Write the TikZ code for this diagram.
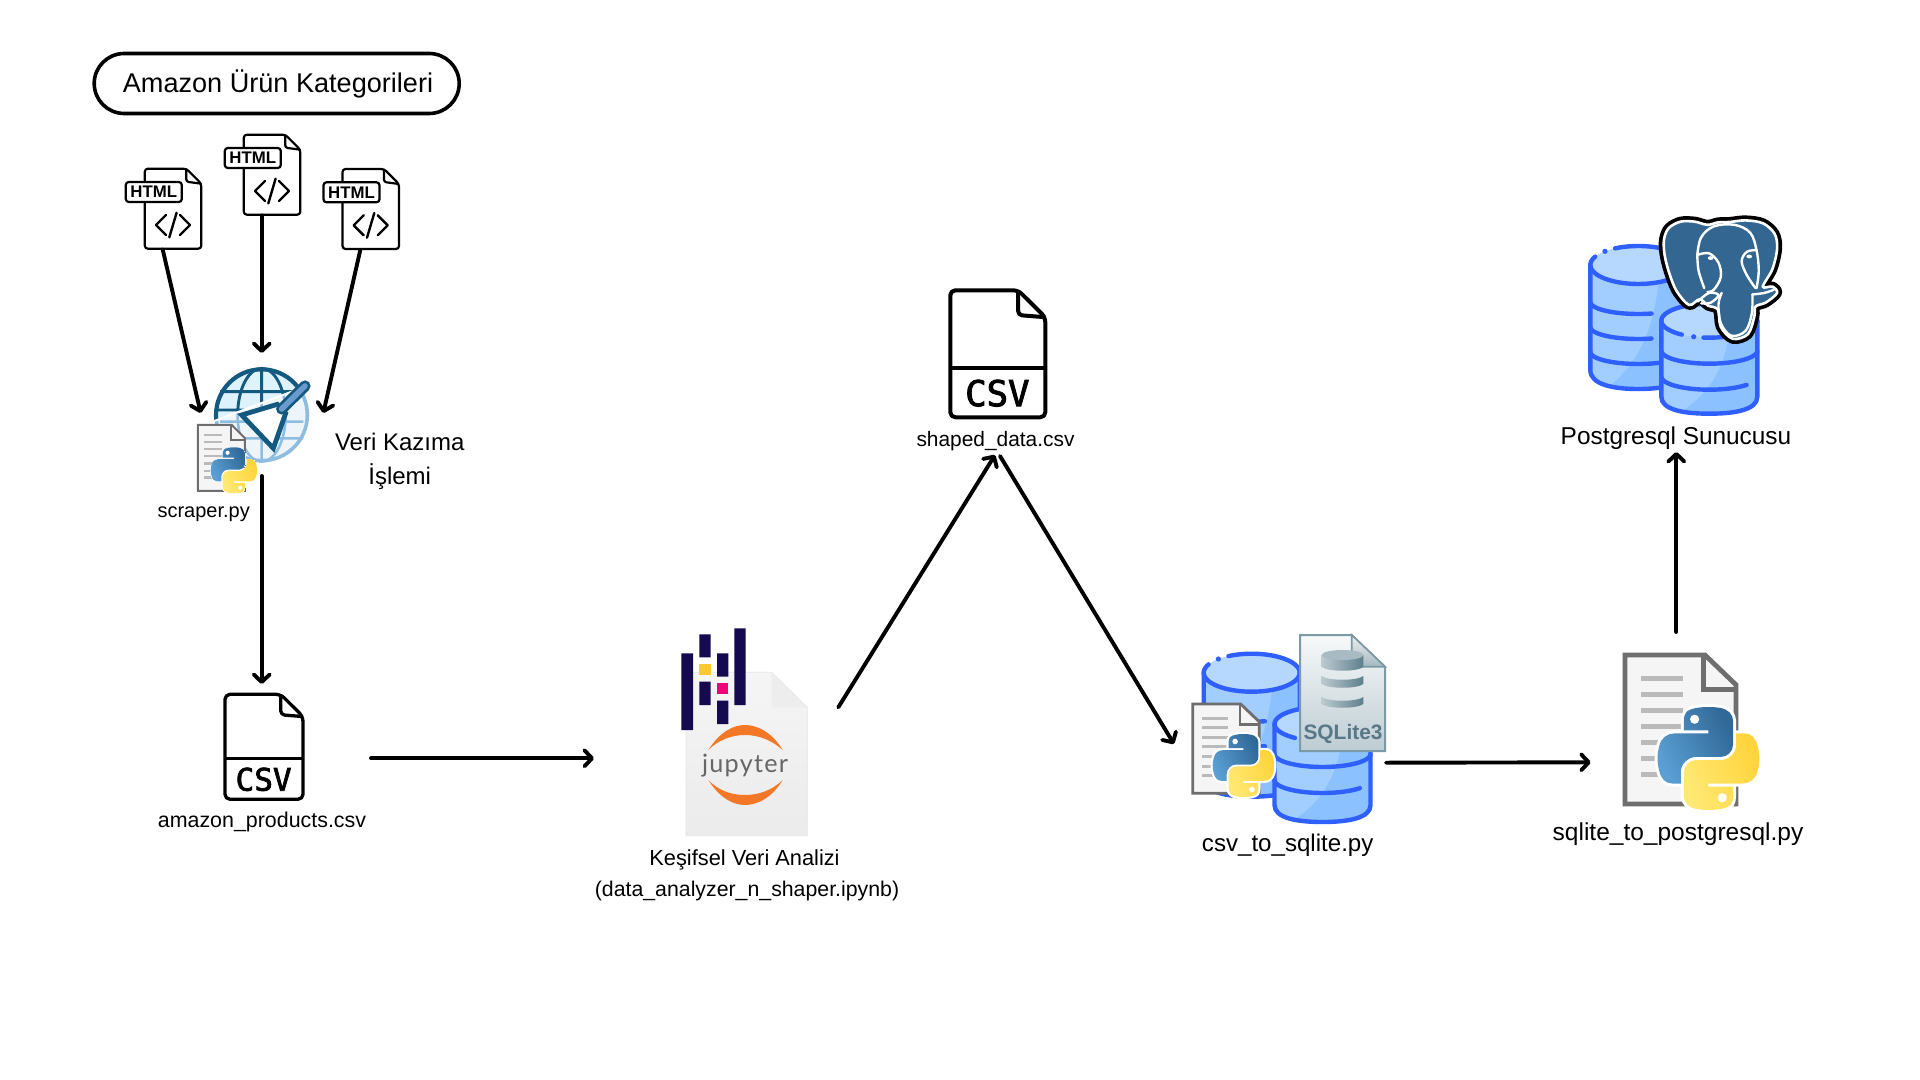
\documentclass[tikz,border=0pt]{standalone}
\usepackage{fontspec}
\setmainfont{Liberation Sans}
\newfontfamily\csvfont[FakeBold=2.4]{DejaVu Sans Mono}
\newfontfamily\jupfont[LetterSpace=5]{Lato}
\usetikzlibrary{arrows.meta,shadings}
\definecolor{dbLine}{HTML}{2F5FFF}
\definecolor{dbTop}{HTML}{B6D8FF}
\definecolor{dbLight}{HTML}{A2CDFF}
\definecolor{dbDark}{HTML}{8BC1FF}
\definecolor{pgBlue}{HTML}{336791}
\definecolor{docGrey}{HTML}{6E6E6E}
\definecolor{docFill}{HTML}{F5F5F5}
\definecolor{docLine}{HTML}{BABABA}
\definecolor{jupNavy}{HTML}{15094F}
\definecolor{jupOrange}{HTML}{F37726}
\definecolor{globeDark}{HTML}{14597F}
\definecolor{globeLight}{HTML}{8FBDE0}
\definecolor{globeSky}{HTML}{DDF2FB}
\definecolor{brushBlue}{HTML}{6A9BCF}
\definecolor{sqlEdge}{HTML}{7C9AA6}
\definecolor{sqlText}{HTML}{587888}
\definecolor{discA}{HTML}{BCCAD0}
\definecolor{discB}{HTML}{95ABB4}
\definecolor{discC}{HTML}{5F7F8D}
\definecolor{discTop}{HTML}{A9BBC2}
\definecolor{HTMLblueA}{HTML}{5A9FD4}
\definecolor{HTMLblueB}{HTML}{306998}
\definecolor{HTMLyelA}{HTML}{FFE873}
\definecolor{HTMLyelB}{HTML}{FFD43B}
\tikzset{
  flow/.style={line width=1.95pt,line cap=round,-{Straight Barb[length=3.8pt,width=8pt,round]}},
  lbl/.style={inner sep=0pt,text=black},
  pill/.style={draw=black,line width=1.8pt,rounded corners=15pt,minimum width=182.5pt,minimum height=30pt,inner sep=0pt},
  dbstroke/.style={draw=dbLine,line width=2.2pt,line cap=round},
}
\def\pyblue{(55,0) .. controls (50.3,0) and (46,0.4) .. (42.1,1.1) .. controls (30.8,3.1) and (28.7,7.3) .. (28.7,15) -- (28.7,25.25) -- (55.5,25.25) -- (55.5,28.66) -- (18.6,28.66) .. controls (10.8,28.66) and (4,33.3) .. (1.9,42.25) .. controls (-0.6,52.5) and (-0.7,58.8) .. (1.9,69.5) .. controls (3.8,77.4) and (8.3,83.1) .. (16.1,83.1) -- (25.3,83.1) -- (25.3,70.85) .. controls (25.3,62) and (33,54.2) .. (42.1,54.2) -- (68.9,54.2) .. controls (76.3,54.2) and (82.3,48) .. (82.3,40.5) -- (82.3,15) .. controls (82.3,7.7) and (76.2,2.3) .. (68.9,1.1) .. controls (64.3,0.3) and (59.5,0) .. (55,0) -- cycle}
% x y w h halo(pt)
\newcommand{\PyLogo}[5]{%
  \begin{scope}[shift={(#1,#2)},xscale=#3/110,yscale=#4/111.8]
    \draw[white,line width=#5,line join=round] \pyblue;
    \begin{scope}[shift={(110.94,111.76)},xscale=-1,yscale=-1]
      \draw[white,line width=#5,line join=round] \pyblue;
    \end{scope}
    \shade[left color=HTMLblueA,right color=HTMLblueB,shading angle=115] \pyblue;
    \fill[white] (40.4,13.3) circle[radius=5];
    \begin{scope}[shift={(110.94,111.76)},xscale=-1,yscale=-1]
      \shade[left color=HTMLyelA,right color=HTMLyelB,shading angle=115] \pyblue;
      \fill[white] (40.4,13.3) circle[radius=5];
    \end{scope}
  \end{scope}}
% x y w h lw
\newcommand{\PyDocBox}[5]{%
  \begin{scope}[shift={(#1,#2)},xscale=#3/100,yscale=#4/100]
    \fill[docFill] (0,0) -- (72,0) -- (100,20) -- (100,100) -- (0,100) -- cycle;
    \foreach \yy in {15.7,26.3,37.2,47.7,58.6,69.5,80}
      \draw[docLine,line width=#4*0.017pt] (14,\yy) -- (52.5,\yy);
    \draw[docGrey,line width=#5,line join=miter] (0,0) -- (72,0) -- (100,20) -- (100,100) -- (0,100) -- cycle;
    \draw[docGrey,line width=#5,line join=miter] (71,0) -- (71,23) -- (100,23);
  \end{scope}}
% x y w h lw csvsize
\newcommand{\CsvIcon}[6]{%
  \begin{scope}[shift={(#1,#2)},xscale=#3/100,yscale=#4/100]
    \draw[black,line width=#5,rounded corners=2.5pt,line join=round] (0,0) -- (71.4,0) -- (100,21.2) -- (100,100) -- (0,100) -- cycle;
    \draw[black,line width=#5,line join=round,rounded corners=2pt] (71.4,0) -- (71.4,19.5) -- (100,21.2);
    \draw[black,line width=#5] (0,61.2) -- (100,61.2);
    \node[lbl,font=\csvfont\fontsize{#6}{#6}\selectfont] at (49.5,81) {CSV};
  \end{scope}}
% x y
\newcommand{\HtmlIcon}[2]{%
  \begin{scope}[shift={(#1,#2)}]
    \draw[black,line width=1.1pt,rounded corners=1.5pt,line join=round] (0.5,0) -- (42,0) -- (57,15) -- (57,80) -- (0.5,80) -- cycle;
    \draw[black,line width=1.1pt,rounded corners=1.2pt] (42,0) -- (42,13) -- (57,15);
    \draw[black,line width=1.1pt,fill=white,rounded corners=1.5pt] (-18.5,13.3) rectangle (37.5,33.3);
    \node[lbl,font=\bfseries\fontsize{8.4}{8.4}\selectfont] at (9.5,23.5) {HTML};
    \draw[black,line width=1.2pt,line cap=round,line join=round] (21.7,46.3) -- (11.7,56.3) -- (21.7,66.3) (32.3,44) -- (25,68.7) (35.7,46.3) -- (45.7,56.3) -- (35.7,66.3);
  \end{scope}}
\newcommand{\TierLine}[3]{\draw[dbstroke] plot[domain=180:#3,samples=30] ({50+48*cos(\x)},{#1-#2+#2*sin(\x)});}
\newcommand{\TopArc}[4]{\draw[dbstroke] plot[domain=#3:#4,samples=60] ({50+48*cos(\x)},{#1+#2*sin(\x)});}
% x y H ry content
\newcommand{\DbCyl}[5]{%
  \begin{scope}[shift={(#1,#2)}]
    \def\cylbody{(2,#4) -- (2,#3-#4) .. controls (2,#3-#4*.3) and (25,#3-2) .. (50,#3-2) .. controls (75,#3-2) and (98,#3-#4*.3) .. (98,#3-#4) -- (98,#4) -- cycle}
    \fill[dbDark] \cylbody;
    \begin{scope}
      \clip \cylbody;
      \fill[dbLight] (0,0) -- (72,0) .. controls (72,#3*.5) and (55,#3*.8) .. (15,#3) -- (0,#3) -- cycle;
    \end{scope}
    \fill[dbTop] (50,#4) ellipse[x radius=48,y radius=#4-2];
    \draw[dbstroke] (2,#4) -- (2,#3-#4) .. controls (2,#3-#4*.3) and (25,#3-2) .. (50,#3-2) .. controls (75,#3-2) and (98,#3-#4*.3) .. (98,#3-#4) -- (98,#4);
    #5
  \end{scope}}
\newcommand{\TallDb}[2]{\DbCyl{#1}{#2}{147}{21}{%
    \TopArc{21}{19}{-119}{206}
    \fill[dbLine] ({50+48*cos(-134)},{21+19*sin(-134)}) circle[radius=2.6];
    \TierLine{70}{12}{74}
    \TierLine{95}{12}{74}
    \TierLine{120}{12}{0}}}
\newcommand{\ShortDb}[3]{\DbCyl{#1}{#2}{#3}{19}{%
    \TopArc{19}{17}{125}{457}
    \fill[dbLine] ({50+48*cos(109)},{19+17*sin(109)}) circle[radius=2.6];
    \TierLine{62}{13}{0}
    \TierLine{88}{13}{39}}}
\begin{document}
\begin{tikzpicture}[x=0.5pt,y=-0.5pt]
\useasboundingbox (0,0) rectangle (1920,1080);
\fill[white] (0,0) rectangle (1920,1080);

% ---------- title
\node[pill] (titlebox) at (276.7,83.5) {};
\node[lbl,font=\fontsize{13.55}{16}\selectfont] (title) at (278,83.5) {Amazon Ürün Kategorileri};

% ---------- html files
\HtmlIcon{144.3}{168.7}
\HtmlIcon{243.3}{134.7}
\HtmlIcon{342}{169}

% ---------- globe (zoom coordinates)
\begin{scope}[shift={(190,360)},xscale=1/3,yscale=1/3]
  \begin{scope}
    \clip (50,195) -- (380,70) -- (380,320) -- (50,320) -- cycle;
    \fill[fill=globeLight!15!white] (215,165) circle[radius=140];
    \draw[globeLight,line width=1.3pt] (215,25) -- (215,305) (215,165) ellipse[x radius=72,y radius=140]
      (90,185) -- (340,185) (90,235) -- (340,235);
    \draw[globeLight,line width=1.8pt] (215,165) circle[radius=137];
  \end{scope}
  \begin{scope}
    \clip (50,188) -- (380,63) -- (380,0) -- (50,0) -- cycle;
    \fill[globeSky] (215,165) circle[radius=140];
    \draw[globeDark,line width=1.45pt] (215,25) -- (215,305) (215,165) ellipse[x radius=72,y radius=140]
      (90,95) -- (340,95) (78,150) -- (352,150);
    \draw[globeDark,line width=2.1pt] (215,165) circle[radius=137];
  \end{scope}
  \draw[globeDark,line width=2.4pt,fill=white,line join=miter] (155,165) -- (262,133) -- (287,160) -- (250,265) -- cycle;
  \draw[globeDark,line width=5.6pt,line cap=round] (275,147) -- (345,78);
  \draw[brushBlue,line width=2.8pt,line cap=round] (275,147) -- (345,78);
\end{scope}

% ---------- scraper.py
\PyDocBox{197.8}{424.8}{47}{66}{1pt}
\PyLogo{210.7}{447.3}{46}{46}{0pt}
\node[lbl,font=\fontsize{10}{12}\selectfont] (scraper) at (203.7,514) {scraper.py};
\node[lbl,font=\fontsize{12}{12}\selectfont] (veri1) at (399.7,442) {Veri Kazıma};
\node[lbl,font=\fontsize{12}{12}\selectfont] (veri2) at (399.7,476.5) {İşlemi};

% ---------- amazon csv
\CsvIcon{225}{694.3}{78}{105}{1.65pt}{15.5}
\node[lbl,font=\fontsize{10.7}{13}\selectfont] (amazon) at (262,821.7) {amazon\_products.csv};

% ---------- jupyter
\begin{scope}[shift={(640,600)},xscale=1/3,yscale=1/3]
  \shade[top color=docFill,bottom color=docFill!96!black,draw=black!10] (138,217) -- (395,217) -- (502,322) -- (502,707) -- (138,707) -- cycle;
  \fill[black!7] (395,217) -- (502,322) -- (395,322) -- cycle;
  \fill[jupNavy] (124,160) rectangle (159,390) (178,103) rectangle (212,172) (178,245) rectangle (212,315)
    (231,160) rectangle (265,230) (231,302) rectangle (265,372) (283,85) rectangle (317,315);
  \fill[HTMLyelB!85!orange] (178,192) rectangle (212,226);
  \fill[magenta!80!red] (231,249) rectangle (265,283);
  \fill[jupOrange] (205,450) .. controls (240,395) and (280,375) .. (315,375) .. controls (350,375) and (395,395) .. (428,450) .. controls (395,420) and (355,405) .. (315,405) .. controls (275,405) and (235,420) .. (205,450) -- cycle;
  \fill[jupOrange] (205,540) .. controls (240,595) and (280,615) .. (315,615) .. controls (350,615) and (395,595) .. (428,540) .. controls (395,572) and (355,585) .. (315,585) .. controls (275,585) and (235,572) .. (205,540) -- cycle;
\end{scope}
\node[lbl,font=\jupfont\fontsize{12.6}{14}\selectfont,text=black!60] (jupyter) at (745,766) {jupyter};
\node[lbl,font=\fontsize{10.9}{13}\selectfont] (kesif1) at (744.5,859.5) {Keşifsel Veri Analizi};
\node[lbl,font=\fontsize{10.65}{13}\selectfont] (kesif2) at (747,890.5) {(data\_analyzer\_n\_shaper.ipynb)};

% ---------- shaped csv
\CsvIcon{950.3}{290.3}{95}{127}{2pt}{17.8}
\node[lbl,font=\fontsize{10.45}{13}\selectfont] (shaped) at (995.5,441) {shaped\_data.csv};

% ---------- csv to sqlite
\TallDb{1201.7}{651.7}
\ShortDb{1272.5}{705}{119}
\shade[top color=white!94!sqlEdge,bottom color=sqlEdge!50!white,draw=sqlEdge,line width=1pt] (1300,635) -- (1351.7,635) -- (1385,666.7) -- (1385,751) -- (1300,751) -- cycle;
\shade[top color=black!6,bottom color=sqlEdge!70!white,draw=sqlEdge,line width=.8pt] (1351.7,635) -- (1385,666.7) -- (1351.7,666.7) -- cycle;
\foreach \dy/\dh in {650/22,671/18,692/17}{
  \shade[left color=discA,middle color=discB,right color=discC,draw=none]
    (1321.7,\dy+5) -- (1321.7,\dy+\dh-5) .. controls (1328,\dy+\dh) and (1357,\dy+\dh) .. (1363.3,\dy+\dh-5) -- (1363.3,\dy+5) .. controls (1357,\dy+10) and (1328,\dy+10) .. (1321.7,\dy+5) -- cycle;
}
\fill[discTop] (1342.5,655) ellipse[x radius=20.8,y radius=5];
\node[lbl,font=\bfseries\fontsize{10.45}{12}\selectfont,text=sqlText] (sqlitetxt) at (1343,733.5) {SQLite3};
\PyDocBox{1192.7}{704}{66.6}{89.3}{1.4pt}
\PyLogo{1212.7}{734}{61}{63}{2.2pt}
\node[lbl,font=\fontsize{12.05}{14}\selectfont] (csvsql) at (1287.7,845) {csv\_to\_sqlite.py};

% ---------- sqlite to postgres
\PyDocBox{1625}{655}{111}{149}{2.4pt}
\PyLogo{1657.5}{707}{101}{103}{3pt}
\node[lbl,font=\fontsize{12.25}{14}\selectfont] (sqlpg) at (1678,834) {sqlite\_to\_postgresql.py};

% ---------- postgres
\TallDb{1588.3}{244}
\ShortDb{1659.3}{301.7}{114}
\begin{scope}[shift={(1653.6,209)},xscale=.95/3,yscale=.95/3]
  \def\elephant{plot[smooth cycle,tension=.55] coordinates {(85,40) (48,60) (33,95) (34,140) (47,195) (72,258) (112,303) (145,285) (172,305) (203,318) (212,372) (250,410) (298,395) (318,340) (322,308) (355,295) (390,265) (375,245) (345,245) (375,190) (390,125) (382,78) (345,45) (290,36) (240,41) (205,42) (170,50) (130,40)}}
  \draw[black,line width=5pt,line join=round] \elephant;
  \draw[white,line width=1.3pt,fill=pgBlue] \elephant;
  \draw[white,line width=1.2pt,line cap=round] plot[smooth,tension=.6] coordinates {(325,250) (332,195) (325,130) (305,75) (255,50) (190,55) (150,90) (138,145)};
  \draw[white,line width=1.2pt,line cap=round] plot[smooth,tension=.6] coordinates {(138,145) (175,140) (205,170) (212,215) (190,255) (170,262)};
  \draw[white,line width=1.2pt,line cap=round] plot[smooth,tension=.6] coordinates {(138,145) (142,195) (160,250)};
  \draw[white,line width=1.2pt,line cap=round] plot[smooth,tension=.6] coordinates {(325,130) (295,135) (278,165) (295,210) (322,250)};
  \draw[white,line width=1.2pt,line cap=round] plot[smooth,tension=.6] coordinates {(215,265) (205,300) (212,360) (245,400) (290,385) (310,330) (312,270)};
  \draw[white,line width=1.2pt,line cap=round] plot[smooth,tension=.6] coordinates {(312,270) (350,265) (380,255)};
  \draw[white,line width=1.2pt,line cap=round] plot[smooth,tension=.6] coordinates {(140,292) (175,265) (205,272) (180,296) (150,298)};
  \fill[white] (180,155) ellipse[x radius=9,y radius=6];
  \fill[white] (302,150) ellipse[x radius=9,y radius=6];
\end{scope}
\node[lbl,font=\fontsize{12.2}{14}\selectfont] (pgname) at (1676,438) {Postgresql Sunucusu};

% ---------- connector ends
\coordinate (h1out) at (162.7,249.5);
\coordinate (h2out) at (261.7,215.5);
\coordinate (h3out) at (360.3,250);
\coordinate (scrInA) at (200.7,413);
\coordinate (scrInB) at (261.7,353);
\coordinate (scrInC) at (323.3,413);
\coordinate (scrOut) at (261.7,476);
\coordinate (amzIn) at (261.7,684);
\coordinate (amzOut) at (371,758.3);
\coordinate (jupIn) at (594,758.3);
\coordinate (jupOut) at (838.3,707.3);
\coordinate (shapedIn) at (995,455);
\coordinate (shapedOut) at (1000,456);
\coordinate (csqIn) at (1174,744);
\coordinate (csqOut) at (1386,762.7);
\coordinate (spgIn) at (1590.7,762.3);
\coordinate (spgOut) at (1676.3,632);
\coordinate (pgIn) at (1676.3,452);

\draw[flow] (h1out) -- (scrInA);
\draw[flow] (h2out) -- (scrInB);
\draw[flow] (h3out) -- (scrInC);
\draw[flow] (scrOut) -- (amzIn);
\draw[flow] (amzOut) -- (jupIn);
\draw[flow] (jupOut) -- (shapedIn);
\draw[flow] (shapedOut) -- (csqIn);
\draw[flow] (csqOut) -- (spgIn);
\draw[flow] (spgOut) -- (pgIn);
\end{tikzpicture}
\end{document}
